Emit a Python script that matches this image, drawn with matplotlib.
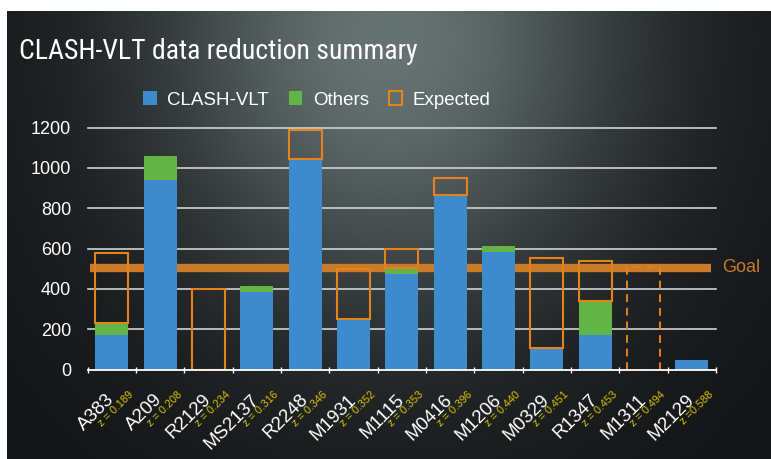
import numpy as np
import matplotlib
matplotlib.use("Agg")
import matplotlib.pyplot as plt
from matplotlib.patches import Patch
from matplotlib import font_manager

# Cluster sample and redshifts
clusters = ['A383', 'A209', 'R2129', 'MS2137', 'R2248', 'M1931', 'M1115',
            'M0416', 'M1206', 'M0329', 'R1347', 'M1311', 'M2129']
redshifts = ['z = 0.189', 'z = 0.208', 'z = 0.234', 'z = 0.316', 'z = 0.346',
             'z = 0.352', 'z = 0.353', 'z = 0.396', 'z = 0.440', 'z = 0.451',
             'z = 0.453', 'z = 0.494', 'z =0.588']

# Reduced spectra per cluster
clash_vlt = [170, 940, 0, 385, 1045, 250, 475, 865, 585, 108, 172, 0, 47]
others = [62, 120, 0, 28, 0, 0, 30, 0, 28, 0, 168, 0, 0]
# Expected totals (nan = none); tentative ones drawn dashed
expected = [576, np.nan, 400, np.nan, 1190, 497, 600, 952, np.nan, 555, 540, 508, np.nan]
tentative = ['M1311']
goal = 506
yticks = [0, 200, 400, 600, 800, 1000, 1200]

BLUE = '#3d8bcd'
GREEN = '#62b446'
ORANGE = '#e6821a'
GOAL_C = '#c97a2b'
ZCOL = '#d8c400'

available = {f.name for f in font_manager.fontManager.ttflist}
BASE = 'Liberation Sans' if 'Liberation Sans' in available else 'DejaVu Sans'
plt.rcParams['font.family'] = [BASE, 'DejaVu Sans']

W, H = 771, 459
fig = plt.figure(figsize=(W / 100, H / 100), dpi=100, facecolor='white')

# Slide background: dark radial gradient, offset inside a white margin
bg = fig.add_axes([7 / W, 0, 1 - 7 / W, (H - 11) / H])
bg.set_axis_off()
yy, xx = np.mgrid[11:H, 7:W].astype(float)
glow = np.exp(-((xx - 390) / 240) ** 2 - ((yy - 40) / 270) ** 2)
base = np.array([20, 21, 23]) / 255
peak = np.array([102, 115, 115]) / 255
img = base + (peak - base) * glow[..., None]
bg.imshow(img, aspect='auto', extent=[0, 1, 0, 1], interpolation='bilinear')
bg.set_xlim(0, 1)
bg.set_ylim(0, 1)

# Plot area in pixel geometry
x0, x1 = 87.7, 716.0
ybot, ytop = 369.5, 127.7
ax = fig.add_axes([x0 / W, 1 - ybot / H, (x1 - x0) / W, (ybot - ytop) / H])
ax.patch.set_alpha(0)
n = len(clusters)
x = np.arange(n)
ax.set_xlim(-0.5, n - 0.5)
ax.set_ylim(0, 1200)

for s in ['top', 'right', 'left']:
    ax.spines[s].set_visible(False)
ax.spines['bottom'].set_color('white')
ax.spines['bottom'].set_linewidth(1.3)
ax.spines['bottom'].set_zorder(5)

ax.set_yticks(yticks)
ax.set_yticklabels([str(v) for v in yticks], color='white', fontsize=13)
ax.tick_params(axis='y', length=0, pad=12)
for v in yticks[1:]:
    ax.axhline(v, color='#d2d2d2', lw=1.2, zorder=1, clip_on=False)

ax.set_xticks(np.arange(n + 1) - 0.5)
ax.set_xticklabels([])
ax.tick_params(axis='x', length=4, direction='inout', color='white', width=1)

bw = 0.68
# Goal band (behind the bars)
ax.hlines(goal, -0.45, 12.4, color=GOAL_C, lw=6, zorder=2)
ax.text(12.62, goal, 'Goal', color=GOAL_C, fontsize=13, va='center', ha='left',
        clip_on=False)

ax.bar(x, clash_vlt, width=bw, color=BLUE, zorder=3, label='CLASH-VLT')
ax.bar(x, others, width=bw, bottom=clash_vlt, color=GREEN, zorder=3, label='Others')

done = np.array(clash_vlt) + np.array(others)
for i, (name, e) in enumerate(zip(clusters, expected)):
    if np.isnan(e):
        continue
    if name in tentative:
        ax.plot([i - bw / 2, i - bw / 2, i + bw / 2, i + bw / 2], [0, e, e, 0],
                color=ORANGE, lw=1.4, ls=(0, (4, 3)), zorder=4)
    else:
        ax.bar(i, e - done[i], width=bw, bottom=done[i], facecolor='none',
               edgecolor=ORANGE, lw=1.5, zorder=4)

# Rotated cluster names and redshifts
for i, (name, zlab) in enumerate(zip(clusters, redshifts)):
    ax.annotate(name, xy=(i, 0), xycoords='data', xytext=(-4.3, -15.5),
                textcoords='offset points', rotation=45, rotation_mode='anchor',
                ha='right', va='top', color='white', fontsize=13.5)
    ax.annotate(zlab, xy=(i, 0), xycoords='data', xytext=(12, -14.5),
                textcoords='offset points', rotation=45, rotation_mode='anchor',
                ha='right', va='top', color=ZCOL, fontsize=7.8)

handles = [Patch(facecolor=BLUE, edgecolor='none', label='CLASH-VLT'),
           Patch(facecolor=GREEN, edgecolor='none', label='Others'),
           Patch(facecolor='none', edgecolor=ORANGE, lw=1.5, label='Expected')]
fig.legend(handles=handles, loc='center', bbox_to_anchor=(317 / W, 1 - 100 / H),
           ncol=3, frameon=False, fontsize=13.5, labelcolor='white',
           handlelength=0.7, handleheight=0.7, handletextpad=0.55,
           columnspacing=1.1)

# Title, sized to span its slot
title_family = [f for f in ['Liberation Sans Narrow', 'Roboto Condensed', BASE]
                if f in available][0]
title = fig.text(19 / W, 1 - 59 / H, 'CLASH-VLT data reduction summary',
                 color='white', fontsize=24, family=[title_family, 'DejaVu Sans'],
                 ha='left', va='baseline')
r = fig.canvas.get_renderer()
wpx = title.get_window_extent(r).width
title.set_fontsize(24 * 400 / wpx)

fig.savefig('out.png', dpi=100, facecolor=fig.get_facecolor())
